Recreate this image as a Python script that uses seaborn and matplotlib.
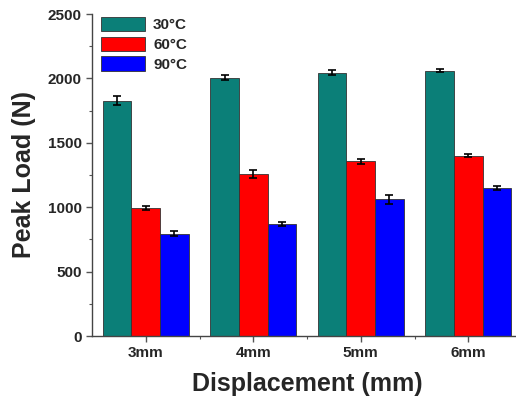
import numpy as np
import pandas as pd
import matplotlib
matplotlib.use("Agg")
import matplotlib.pyplot as plt
import seaborn as sns
from matplotlib.ticker import MultipleLocator, FixedLocator

displacements = ["3mm", "4mm", "5mm", "6mm"]
temps = ["30°C", "60°C", "90°C"]
load_30 = [1825, 2005, 2045, 2060]
load_60 = [995, 1255, 1355, 1400]
load_90 = [795, 870, 1060, 1150]
err_30 = [35, 20, 22, 12]
err_60 = [15, 30, 18, 12]
err_90 = [20, 18, 35, 18]
colors = ["#0B7F78", "#FF0000", "#0000FF"]

rows = []
for t, vals, errs in zip(temps, [load_30, load_60, load_90], [err_30, err_60, err_90]):
    for d, v, e in zip(displacements, vals, errs):
        rows.append({"Displacement": d, "Temp": t, "Load": v, "Err": e})
df = pd.DataFrame(rows)

sns.set_style("white")
plt.rcParams['font.family'] = ['Liberation Sans', 'DejaVu Sans']
plt.rcParams['font.weight'] = 'bold'

fig = plt.figure(figsize=(5.16, 4.03), dpi=100)
W, H = 516, 403
x0, x1 = 92, 522
y0, y1 = 336, 14
ax = fig.add_axes([x0 / W, (H - y0) / H, (x1 - x0) / W, (y0 - y1) / H])

sns.barplot(data=df, x="Displacement", y="Load", hue="Temp", order=displacements,
            hue_order=temps, palette=colors, errorbar=None, width=0.8,
            edgecolor="#333333", linewidth=0.6, saturation=1, ax=ax)

# error bars at each bar centre
for cont, t in zip(ax.containers, temps):
    sub = df[df["Temp"] == t].set_index("Displacement").loc[displacements]
    xs = [p.get_x() + p.get_width() / 2 for p in cont.patches]
    hs = [p.get_height() for p in cont.patches]
    ax.errorbar(xs, hs, yerr=sub["Err"].values, fmt="none", ecolor="black",
                elinewidth=1.2, capsize=3, capthick=1.2, zorder=5)

ax.set_ylim(0, 2500)
ax.set_xlim(-0.5, 3.5)
ax.yaxis.set_major_locator(MultipleLocator(500))
ax.yaxis.set_minor_locator(MultipleLocator(250))
ax.xaxis.set_minor_locator(FixedLocator([0.5, 1.5, 2.5]))
ax.tick_params(axis="both", which="major", direction="out", length=4, width=1,
               labelsize=11, bottom=True, left=True, color="#555555")
ax.tick_params(axis="both", which="minor", direction="out", length=2.5, width=0.8,
               bottom=True, left=True, color="#555555")
for lab in ax.get_xticklabels() + ax.get_yticklabels():
    lab.set_fontweight("bold")

sns.despine(ax=ax, top=True, right=True)
for s in ["left", "bottom"]:
    ax.spines[s].set_color("#444444")
    ax.spines[s].set_linewidth(1)

ax.set_xlabel("Displacement (mm)", fontsize=18, fontweight="bold", labelpad=8)
ax.set_ylabel("Peak Load (N)", fontsize=18, fontweight="bold", labelpad=8)

leg = ax.legend(loc="upper left", bbox_to_anchor=(0.0, 1.02), frameon=False,
                fontsize=11, handlelength=2.9, handleheight=1.05,
                labelspacing=0.3, handletextpad=0.5, borderaxespad=0.2)
for txt in leg.get_texts():
    txt.set_fontweight("bold")

fig.savefig("out.png", dpi=100)
